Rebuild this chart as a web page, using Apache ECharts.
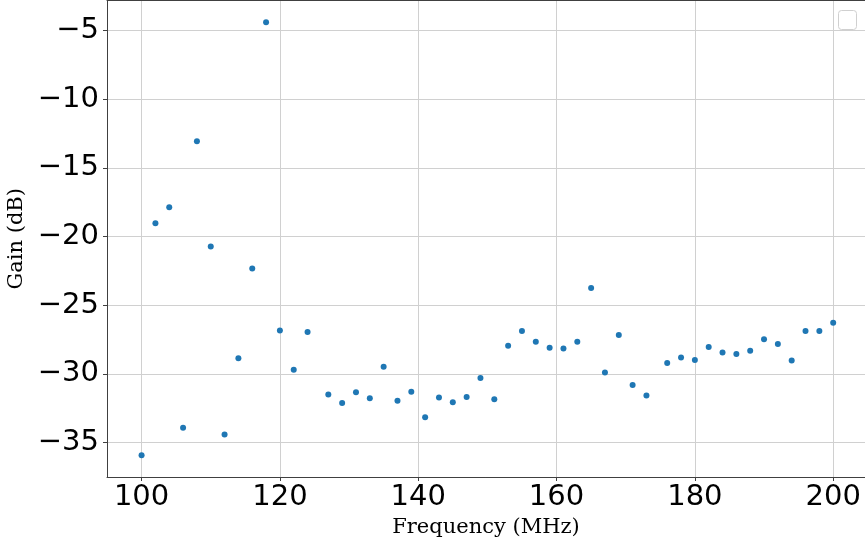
<!DOCTYPE html>
<html>
<head>
<meta charset="utf-8">
<script src="https://cdn.jsdelivr.net/npm/echarts@6/dist/echarts.min.js"></script>
<style>html,body{margin:0;padding:0;background:#fff;}#c{width:865px;height:546px;}</style>
</head>
<body>
<div id="c"></div>
<script>
const frequencies = [100,102,104,106,108,110,112,114,116,118,120,122,124,127,129,131,133,135,137,139,141,143,145,147,149,151,153,155,157,159,161,163,165,167,169,171,173,176,178,180,182,184,186,188,190,192,194,196,198,200];
const gains = [-35.91,-19.03,-17.86,-33.92,-13.07,-20.72,-34.41,-28.86,-22.32,-4.40,-26.83,-29.69,-26.95,-31.50,-32.11,-31.33,-31.77,-29.47,-31.95,-31.29,-33.15,-31.72,-32.06,-31.67,-30.29,-31.84,-27.94,-26.88,-27.65,-28.09,-28.14,-27.65,-23.75,-29.90,-27.17,-30.80,-31.57,-29.20,-28.81,-28.98,-28.04,-28.43,-28.55,-28.31,-27.48,-27.82,-29.03,-26.88,-26.88,-26.27];
const xTicks = [100, 120, 140, 160, 180, 200];
const yTicks = [-35, -30, -25, -20, -15, -10, -5];
const xTitle = 'Frequency (MHz)';
const yTitle = 'Gain (dB)';

const chart = echarts.init(document.getElementById('c'), null, {renderer: 'canvas'});
const spine = {show: true, lineStyle: {color: '#404040', width: 1}};
const gridLine = {show: true, lineStyle: {color: '#d0d0d0', width: 1}};
const tickFont = {fontFamily: 'DejaVu Sans', fontSize: 29, color: '#000'};
chart.setOption({
  animation: false,
  backgroundColor: '#fff',
  grid: {left: 107, right: 0, top: 0.5, bottom: 69, outerBoundsMode: 'none', containLabel: false},
  xAxis: [{
    type: 'value', min: 95, max: 204.6,
    axisLine: spine,
    axisTick: {show: true, length: 4, inside: false, customValues: xTicks, lineStyle: {color: '#404040'}},
    axisLabel: Object.assign({margin: 6, customValues: xTicks}, tickFont),
    splitLine: gridLine,
    name: xTitle, nameLocation: 'middle', nameGap: 40,
    nameTextStyle: {fontFamily: 'DejaVu Serif', fontSize: 21, color: '#000'}
  }, {
    type: 'value', position: 'top', min: 95, max: 204.6,
    axisLine: spine, axisTick: {show: false}, axisLabel: {show: false}, splitLine: {show: false}
  }],
  yAxis: {
    type: 'value', min: -37.5, max: -2.82,
    axisLine: spine,
    axisTick: {show: true, length: 4, customValues: yTicks, lineStyle: {color: '#404040'}},
    axisLabel: Object.assign({margin: 8, customValues: yTicks,
      formatter: v => String(v).replace('-', '\u2212')}, tickFont),
    splitLine: gridLine,
    name: yTitle, nameLocation: 'middle', nameGap: 76, nameRotate: 90,
    nameTextStyle: {fontFamily: 'DejaVu Serif', fontSize: 21, color: '#000'}
  },
  graphic: [{
    type: 'rect', left: 838, top: 10,
    shape: {width: 18, height: 19, r: 3},
    style: {fill: 'rgba(255,255,255,0.8)', stroke: '#d0d0d0', lineWidth: 1}
  }],
  series: [{
    type: 'scatter',
    data: frequencies.map((f, i) => [f, gains[i]]),
    symbolSize: 6,
    itemStyle: {color: '#1f77b4', opacity: 1}
  }]
});
</script>
</body>
</html>
